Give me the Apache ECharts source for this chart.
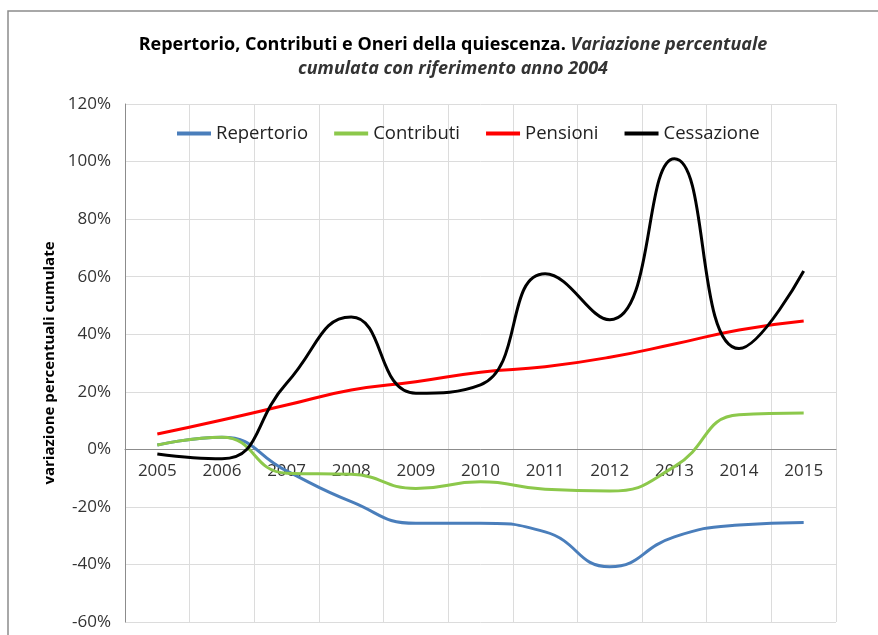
<!DOCTYPE html>
<html>
<head>
<meta charset="utf-8">
<script src="https://cdn.jsdelivr.net/npm/echarts@6/dist/echarts.min.js"></script>
<style>
  html, body { margin: 0; padding: 0; background: #fff; }
  #chart { width: 878px; height: 635px; }
</style>
</head>
<body>
<div id="chart"></div>
<script>
// anni sull'asse x
var anni = ['2005', '2006', '2007', '2008', '2009', '2010', '2011', '2012', '2013', '2014', '2015'];

// variazioni percentuali cumulate
var repertorio = [1.5, 4.2, -7.5, -18.2, -25.7, -25.7, -28.7, -40.8, -30.4, -26.3, -25.4];
var contributi = [1.5, 4.2, -8.3, -8.7, -13.6, -11.3, -13.9, -14.5, -6, 12, 12.6];
var pensioni = [5.3, 10.2, 15.4, 20.6, 23.5, 26.8, 28.7, 32, 36.6, 41.5, 44.6];
var cessazione = [-1.6, -3.3, 23, 46, 19.5, 22.4, 61, 45, 101, 35, 62];

var nomiSerie = ['Repertorio', 'Contributi', 'Pensioni', 'Cessazione'];
var colori = ['#4a7ebb', '#8cc84b', '#ff0000', '#000000'];

var font = 'Open Sans';

var chartDom = document.getElementById('chart');
var myChart = echarts.init(chartDom);

//costruisce una serie linea smussata
function serieLinea(nome, dati, colore) {
  return {
    name: nome,
    type: 'line',
    data: dati,
    smooth: 0.5,
    symbol: 'none',
    lineStyle: { color: colore, width: 3 },
    itemStyle: { color: colore }
  };
}

var option = {
  animation: false,
  backgroundColor: '#fff',
  textStyle: { fontFamily: font },
  //cornice esterna del grafico
  graphic: [{
    type: 'rect',
    shape: { x: 8, y: 11, width: 900, height: 700 },
    style: { fill: 'none', stroke: '#8c8c8c', lineWidth: 1.5 },
    silent: true
  }],
  title: {
    left: 448,
    textAlign: 'center',
    top: 28,
    text: '{b|Repertorio, Contributi e Oneri della quiescenza.} {i|Variazione percentuale}\n{i|cumulata con riferimento anno 2004}',
    textStyle: {
      fontFamily: font,
      lineHeight: 24,
      rich: {
        b: { fontFamily: font, fontWeight: 'bold', fontSize: 18, color: '#000', lineHeight: 24 },
        i: { fontFamily: font, fontStyle: 'italic', fontSize: 18, color: '#333', lineHeight: 24 }
      }
    }
  },
  legend: {
    left: 172,
    top: 119,
    itemWidth: 34,
    itemHeight: 4,
    itemGap: 26,
    icon: 'rect',
    data: nomiSerie,
    textStyle: { fontFamily: font, fontSize: 18.5, color: '#222' }
  },
  grid: {
    left: 125,
    right: 42,
    top: 104,
    bottom: 13,
    containLabel: false,
    outerBoundsMode: 'none'
  },
  xAxis: {
    type: 'category',
    data: anni,
    boundaryGap: true,
    //asse spostato sullo 0% come in Excel
    offset: -172.5,
    axisLine: { onZero: false, lineStyle: { color: '#8c8c8c', width: 1 } },
    axisTick: { show: false },
    axisLabel: { color: '#333', fontSize: 17, fontFamily: font, margin: 13 },
    splitLine: { show: true, lineStyle: { color: '#dcdcdc', width: 1 } }
  },
  yAxis: {
    type: 'value',
    min: -60,
    max: 120,
    interval: 20,
    name: 'variazione percentuali cumulate',
    nameLocation: 'middle',
    nameGap: 66,
    nameTextStyle: { fontFamily: font, fontWeight: 'bold', fontSize: 15, color: '#000' },
    axisLine: { show: true, lineStyle: { color: '#8c8c8c', width: 1 } },
    axisTick: { show: false },
    axisLabel: { formatter: '{value}%', color: '#333', fontSize: 17, fontFamily: font, margin: 14 },
    splitLine: { show: true, lineStyle: { color: '#dcdcdc', width: 1 } }
  },
  series: [
    serieLinea(nomiSerie[0], repertorio, colori[0]),
    serieLinea(nomiSerie[1], contributi, colori[1]),
    serieLinea(nomiSerie[2], pensioni, colori[2]),
    serieLinea(nomiSerie[3], cessazione, colori[3])
  ]
};

option && myChart.setOption(option);
</script>
</body>
</html>
